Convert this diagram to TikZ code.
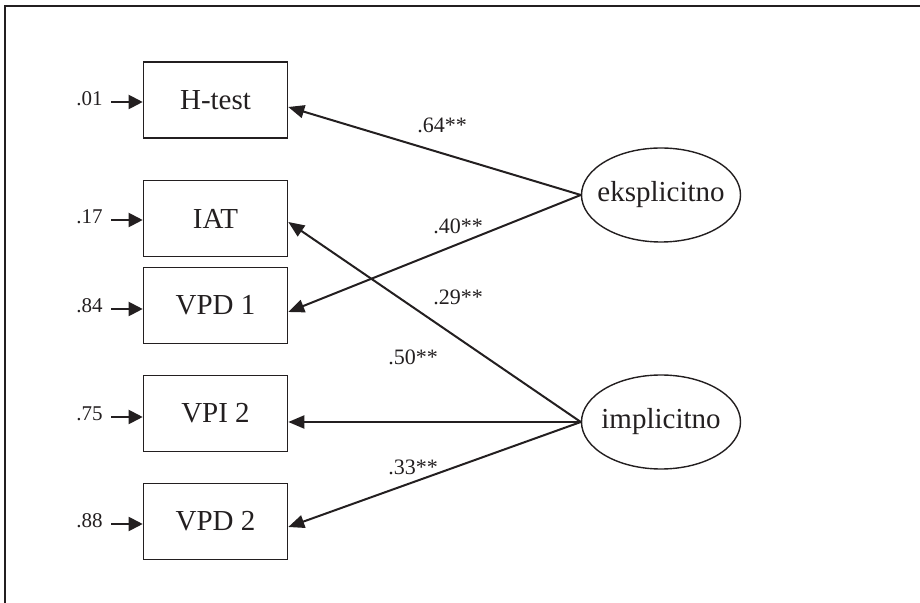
\documentclass[tikz,border=0pt]{standalone}
\usepackage{fontspec}
\setmainfont{Liberation Serif}
\usetikzlibrary{calc,shapes,arrows.meta}
\definecolor{ink}{HTML}{231F20}
\tikzset{
  obs/.style={draw=ink,line width=0.8pt,minimum width=72pt,minimum height=38pt,inner sep=0pt,text=ink,font=\fontsize{14.5}{17}\selectfont},
  lat/.style={draw=ink,line width=0.7pt,ellipse,minimum width=79.5pt,minimum height=47pt,inner ysep=0pt,inner xsep=-4pt,text=ink,font=\fontsize{14.5}{17}\selectfont},
  err/.style={anchor=east,inner ysep=0pt,inner xsep=4pt,text=ink,font=\fontsize{10.5}{12}\selectfont},
  coef/.style={inner sep=0pt,text=ink,font=\fontsize{11}{13}\selectfont},
  load/.style={draw=ink,line width=1pt,-{Triangle[length=8pt,width=6.5pt]}},
  erra/.style={draw=ink,line width=1pt,-{Triangle[length=7pt,width=7pt]}}
}
\begin{document}
\begin{tikzpicture}[x=0.5pt,y=-0.5pt]
      \useasboundingbox(0,0)rectangle(920,603);
      \draw[ink,line width=0.8pt](5,603)--(5,6)--(920,6);
      % observed variables
      \node[obs](htest)at(215.5,100){H-test};
      \node[obs](iat)at(215.5,218.5){IAT};
      \node[obs](vpd1)at(215.5,305.5){VPD 1};
      \node[obs](vpi2)at(215.5,413.5){VPI 2};
      \node[obs](vpd2)at(215.5,521.5){VPD 2};
      % latent variables
      \node[lat](eks)at(661,195){eksplicitno};
      \node[lat](imp)at(661,422){implicitno};
      % errors
      \node[err](e1)at(111,99){.01};
      \node[err](e2)at(111,217){.17};
      \node[err](e3)at(111,306){.84};
      \node[err](e4)at(111,414){.75};
      \node[err](e5)at(111,521){.88};
      \draw[erra]([yshift=-1.5pt]e1.east)--([yshift=-1.5pt]e1.east-|htest.west);
      \draw[erra]([yshift=-1.5pt]e2.east)--([yshift=-1.5pt]e2.east-|iat.west);
      \draw[erra]([yshift=-1.5pt]e3.east)--([yshift=-1.5pt]e3.east-|vpd1.west);
      \draw[erra]([yshift=-1.5pt]e4.east)--([yshift=-1.5pt]e4.east-|vpi2.west);
      \draw[erra]([yshift=-1.5pt]e5.east)--([yshift=-1.5pt]e5.east-|vpd2.west);
      % loadings
      \draw[load](eks.west)--($(htest.east)+(0,7)$);
      \draw[load](eks.west)--($(vpd1.east)+(0,6.5)$);
      \draw[load](imp.west)--($(iat.east)+(0,3.5)$);
      \draw[load](imp.west)--(imp.west-|vpi2.east);
      \draw[load](imp.west)--($(vpd2.east)+(0,5.5)$);
      \node[coef](c1)at(442,125){.64**};
      \node[coef](c2)at(458,226){.40**};
      \node[coef](c3)at(458,297){.29**};
      \node[coef](c4)at(413,357){.50**};
      \node[coef](c5)at(413,467){.33**};
    \end{tikzpicture}
\end{document}
